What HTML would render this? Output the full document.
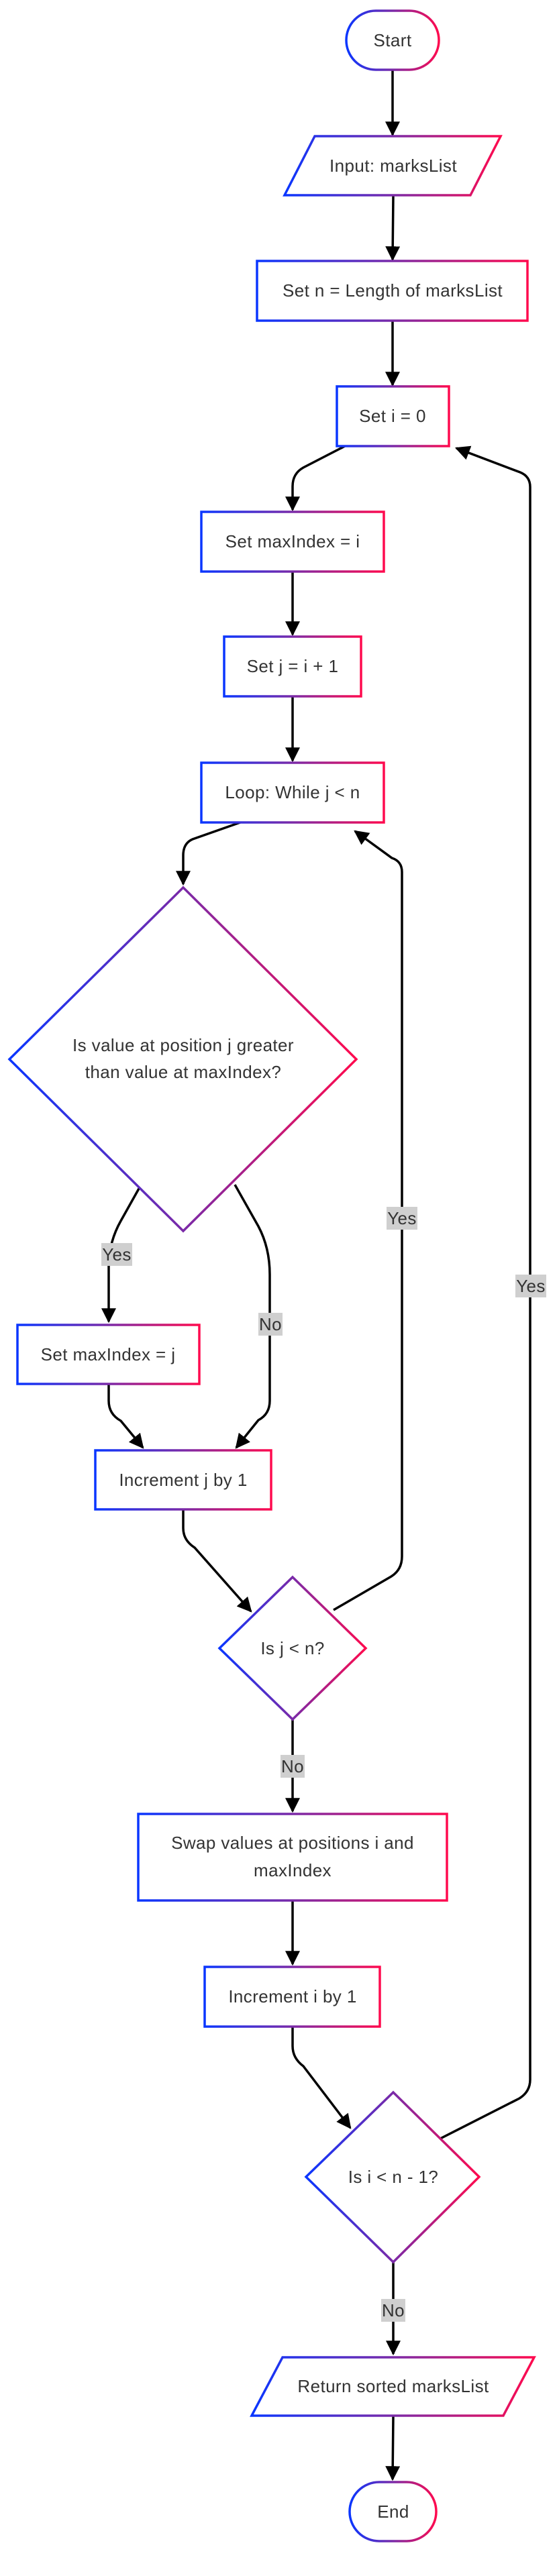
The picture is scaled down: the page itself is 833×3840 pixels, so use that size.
<!DOCTYPE html>
<html><head><meta charset="utf-8"><style>
html,body{margin:0;padding:0;background:#fff;}
svg{display:block;}
text{font-family:"Liberation Sans",sans-serif;font-size:26px;fill:#333;text-anchor:middle;dominant-baseline:central;letter-spacing:0.4px;}
.s{fill:#fff;stroke:url(#g);stroke-width:3.5;}
.e{fill:none;stroke:#000;stroke-width:3.5;marker-end:url(#a);}
.lb{fill:#cfcfcf;}
</style></head><body>
<svg width="833" height="3840" viewBox="0 0 833 3840" xmlns="http://www.w3.org/2000/svg">
<defs>
<linearGradient id="g" x1="0" y1="0" x2="1" y2="0"><stop offset="0" stop-color="#0a36ff"/><stop offset="0.5" stop-color="#7a2aa8"/><stop offset="1" stop-color="#ff0a4e"/></linearGradient>
<marker id="a" viewBox="0 0 10 10" refX="9" refY="5" markerWidth="22" markerHeight="22" markerUnits="userSpaceOnUse" orient="auto"><path d="M0,0 L10,5 L0,10 z" fill="#000"/></marker>
</defs>

<!-- edges -->
<path class="e" d="M585,104 L585,201"/>
<path class="e" d="M586,291 L585,387"/>
<path class="e" d="M585,478 L585,574"/>
<path class="e" d="M514,665 L452,697 Q436,706 436,725 L436,760"/>
<path class="e" d="M436,852 L436,946"/>
<path class="e" d="M436,1038 L436,1134"/>
<path class="e" d="M358,1226 L287,1251 Q273,1257 273,1275 L273,1318"/>
<path class="e" d="M208,1770 L180,1820 Q163,1850 162,1885 L162,1970"/>
<path class="e" d="M350,1766 L385,1828 Q402,1860 402,1900 L402,2088 Q402,2108 385,2117 L352,2158"/>
<path class="e" d="M162,2063 L162,2088 Q162,2108 180,2118 L213,2158"/>
<path class="e" d="M273,2250 L273,2278 Q273,2296 290,2307 L374,2402"/>
<path class="e" d="M497,2400 L583,2350 Q599,2340 599,2320 L599,1300 Q599,1284 584,1279 L529,1239"/>
<path class="e" d="M436,2563 L436,2700"/>
<path class="e" d="M436,2833 L436,2928"/>
<path class="e" d="M436,3021 L436,3050 Q436,3068 452,3080 L522,3172"/>
<path class="e" d="M656,3188 L774,3128 Q790,3118 790,3100 L790,726 Q790,710 775,704 L680,668"/>
<path class="e" d="M586,3372 L586,3509"/>
<path class="e" d="M586,3601 L585,3696"/>

<!-- shapes -->
<rect class="s" x="516" y="16" width="138" height="88" rx="44"/>
<text x="585" y="60">Start</text>

<polygon class="s" points="469,203 746,203 701,291 424,291"/>
<text x="586" y="247">Input: marksList</text>

<rect class="s" x="383" y="389" width="403" height="89"/>
<text x="585" y="433">Set n = Length of marksList</text>

<rect class="s" x="502" y="576" width="167" height="89"/>
<text x="585" y="620">Set i = 0</text>

<rect class="s" x="300" y="763" width="272" height="89"/>
<text x="436" y="807">Set maxIndex = i</text>

<rect class="s" x="334" y="949" width="204" height="89"/>
<text x="436" y="993">Set j = i + 1</text>

<rect class="s" x="300" y="1137" width="272" height="89"/>
<text x="436" y="1181">Loop: While j &lt; n</text>

<polygon class="s" points="273,1323 531,1579 273,1835 14,1579"/>
<text x="273" y="1558">Is value at position j greater</text>
<text x="273" y="1598">than value at maxIndex?</text>

<rect class="s" x="26" y="1975" width="271" height="88"/>
<text x="161" y="2019">Set maxIndex = j</text>

<rect class="s" x="142" y="2162" width="262" height="88"/>
<text x="273" y="2206">Increment j by 1</text>

<polygon class="s" points="436,2351 545,2457 436,2563 327,2457"/>
<text x="436" y="2457">Is j &lt; n?</text>

<rect class="s" x="206" y="2704" width="460" height="129"/>
<text x="436" y="2747">Swap values at positions i and</text>
<text x="436" y="2788">maxIndex</text>

<rect class="s" x="305" y="2932" width="261" height="89"/>
<text x="436" y="2976">Increment i by 1</text>

<polygon class="s" points="586,3119 714,3245 586,3372 456,3245"/>
<text x="586" y="3245">Is i &lt; n - 1?</text>

<polygon class="s" points="421,3514 796,3514 750,3601 375,3601"/>
<text x="586" y="3557">Return sorted marksList</text>

<rect class="s" x="521" y="3700" width="129" height="88" rx="44"/>
<text x="586" y="3744">End</text>

<!-- labels -->
<rect class="lb" x="151" y="1853" width="46" height="34"/><text x="174" y="1870">Yes</text>
<rect class="lb" x="385" y="1957" width="36" height="34"/><text x="403" y="1974">No</text>
<rect class="lb" x="576" y="1799" width="46" height="34"/><text x="599" y="1816">Yes</text>
<rect class="lb" x="768" y="1900" width="46" height="34"/><text x="791" y="1917">Yes</text>
<rect class="lb" x="418" y="2616" width="36" height="34"/><text x="436" y="2633">No</text>
<rect class="lb" x="568" y="3427" width="36" height="34"/><text x="586" y="3444">No</text>
</svg>
</body></html>
